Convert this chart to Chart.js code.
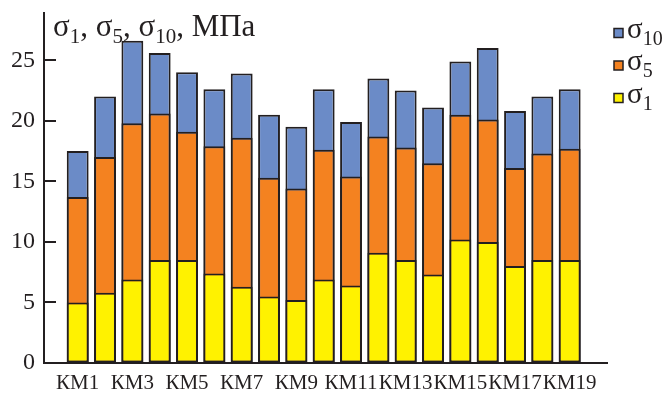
<!DOCTYPE html>
<html>
<head>
<meta charset="utf-8">
<script src="https://cdn.jsdelivr.net/npm/chart.js@4"></script>
<style>
  html, body { margin: 0; padding: 0; background: #fff; }
  canvas { display: block; }
</style>
</head>
<body>
<canvas id="chart" width="666" height="394"></canvas>
<script>
const categories = ['КМ1', 'КМ2', 'КМ3', 'КМ4', 'КМ5', 'КМ6', 'КМ7', 'КМ8', 'КМ9', 'КМ10',
    'КМ11', 'КМ12', 'КМ13', 'КМ14', 'КМ15', 'КМ16', 'КМ17', 'КМ18', 'КМ19'];
const sigma1 = [5.0, 5.8, 6.9, 8.5, 8.5, 7.4, 6.3, 5.5, 5.2, 6.9,
    6.4, 9.1, 8.5, 7.3, 10.2, 10.0, 8.0, 8.5, 8.5];
const sigma5 = [13.7, 17.0, 19.8, 20.6, 19.1, 17.9, 18.6, 15.3, 14.4, 17.6,
    15.4, 18.7, 17.8, 16.5, 20.5, 20.1, 16.1, 17.3, 17.7];
const sigma10 = [17.5, 22.0, 26.6, 25.6, 24.0, 22.6, 23.9, 20.5, 19.5, 22.6,
    19.9, 23.5, 22.5, 21.1, 24.9, 26.0, 20.8, 22.0, 22.6];
const yTicks = [0, 5, 10, 15, 20, 25];
const xTicks = ['КМ1', 'КМ3', 'КМ5', 'КМ7', 'КМ9', 'КМ11', 'КМ13', 'КМ15', 'КМ17', 'КМ19'];

const ink = '#231f20';
const serif = '"Liberation Serif", "Times New Roman", serif';

function points(values) {
    return values.map((v, i) => ({ x: i + 1, y: v }));
}

// text with subscripts: parts = [[text, isSub], ...]
function drawParts(ctx, parts, x, y, size, subSize) {
    ctx.textBaseline = 'alphabetic';
    ctx.textAlign = 'left';
    parts.forEach(p => {
        ctx.font = (p[1] ? subSize : size) + 'px ' + serif;
        ctx.fillText(p[0], x, p[1] ? y + 7 : y);
        x += ctx.measureText(p[0]).width;
    });
}

const decorations = {
    id: 'decorations',
    afterDraw(chart) {
        const ctx = chart.ctx;
        const yScale = chart.scales.y;
        const left = chart.chartArea.left;
        ctx.save();
        ctx.strokeStyle = ink;
        ctx.lineWidth = 2;
        // inward ticks on the value axis
        yTicks.forEach(t => {
            if (t === 0) return;
            const py = Math.round(yScale.getPixelForValue(t));
            ctx.beginPath();
            ctx.moveTo(left, py);
            ctx.lineTo(left + 12, py);
            ctx.stroke();
        });
        ctx.fillStyle = ink;
        drawParts(ctx, [['σ', 0], ['1', 1], [', σ', 0], ['5', 1], [', σ', 0], ['10', 1], [', МПа', 0]],
            53, 36, 31, 21);
        // legend, top to bottom σ10, σ5, σ1
        const order = [2, 1, 0];
        order.forEach((di, row) => {
            const ds = chart.data.datasets[di];
            const cy = 33 + row * 32.5;
            ctx.fillStyle = ds.backgroundColor;
            ctx.fillRect(614, cy - 4.5, 9, 9);
            ctx.lineWidth = 1.5;
            ctx.strokeRect(614, cy - 4.5, 9, 9);
            ctx.fillStyle = ink;
            drawParts(ctx, [['σ', 0], [ds.sub, 1]], 627, cy + 4.5, 29, 20);
        });
        ctx.restore();
    }
};

new Chart(document.getElementById('chart'), {
    type: 'bar',
    data: {
        datasets: [{
            label: 'σ1',
            sub: '1',
            data: points(sigma1),
            backgroundColor: '#fff200'
        }, {
            label: 'σ5',
            sub: '5',
            data: points(sigma5),
            backgroundColor: '#f48220'
        }, {
            label: 'σ10',
            sub: '10',
            data: points(sigma10),
            backgroundColor: '#6b8bc7'
        }]
    },
    options: {
        responsive: false,
        animation: false,
        devicePixelRatio: 1,
        layout: {
            padding: { left: 0, top: 13, right: 59, bottom: 0 }
        },
        datasets: {
            bar: {
                grouped: false,
                barPercentage: 0.8,
                categoryPercentage: 1,
                borderColor: ink,
                borderWidth: 2,
                borderSkipped: false
            }
        },
        plugins: {
            legend: { display: false },
            tooltip: { enabled: false }
        },
        scales: {
            x: {
                type: 'linear',
                offset: false,
                min: -0.233,
                max: 20.365,
                afterFit: function(scale) {
                    scale.height = 31;
                    scale.paddingLeft = 0;
                    scale.paddingRight = 0;
                },
                afterBuildTicks: function(scale) {
                    scale.ticks = xTicks.map(name => ({ value: categories.indexOf(name) + 1 }));
                },
                grid: { offset: false, drawOnChartArea: false, drawTicks: false },
                border: { color: ink, width: 2 },
                ticks: {
                    autoSkip: false,
                    maxRotation: 0,
                    padding: 8,
                    color: ink,
                    font: { family: serif, size: 21 },
                    callback: function(v) {
                        return categories[v - 1];
                    }
                }
            },
            y: {
                min: 0,
                max: 28.9,
                afterFit: function(scale) {
                    scale.width = 44;
                    scale.paddingTop = 0;
                    scale.paddingBottom = 0;
                },
                afterBuildTicks: function(scale) {
                    scale.ticks = yTicks.map(t => ({ value: t }));
                },
                grid: { drawOnChartArea: false, drawTicks: false },
                border: { color: ink, width: 2 },
                ticks: {
                    padding: 9,
                    color: ink,
                    font: { family: serif, size: 24 }
                }
            }
        }
    },
    plugins: [decorations]
});
</script>
</body>
</html>
